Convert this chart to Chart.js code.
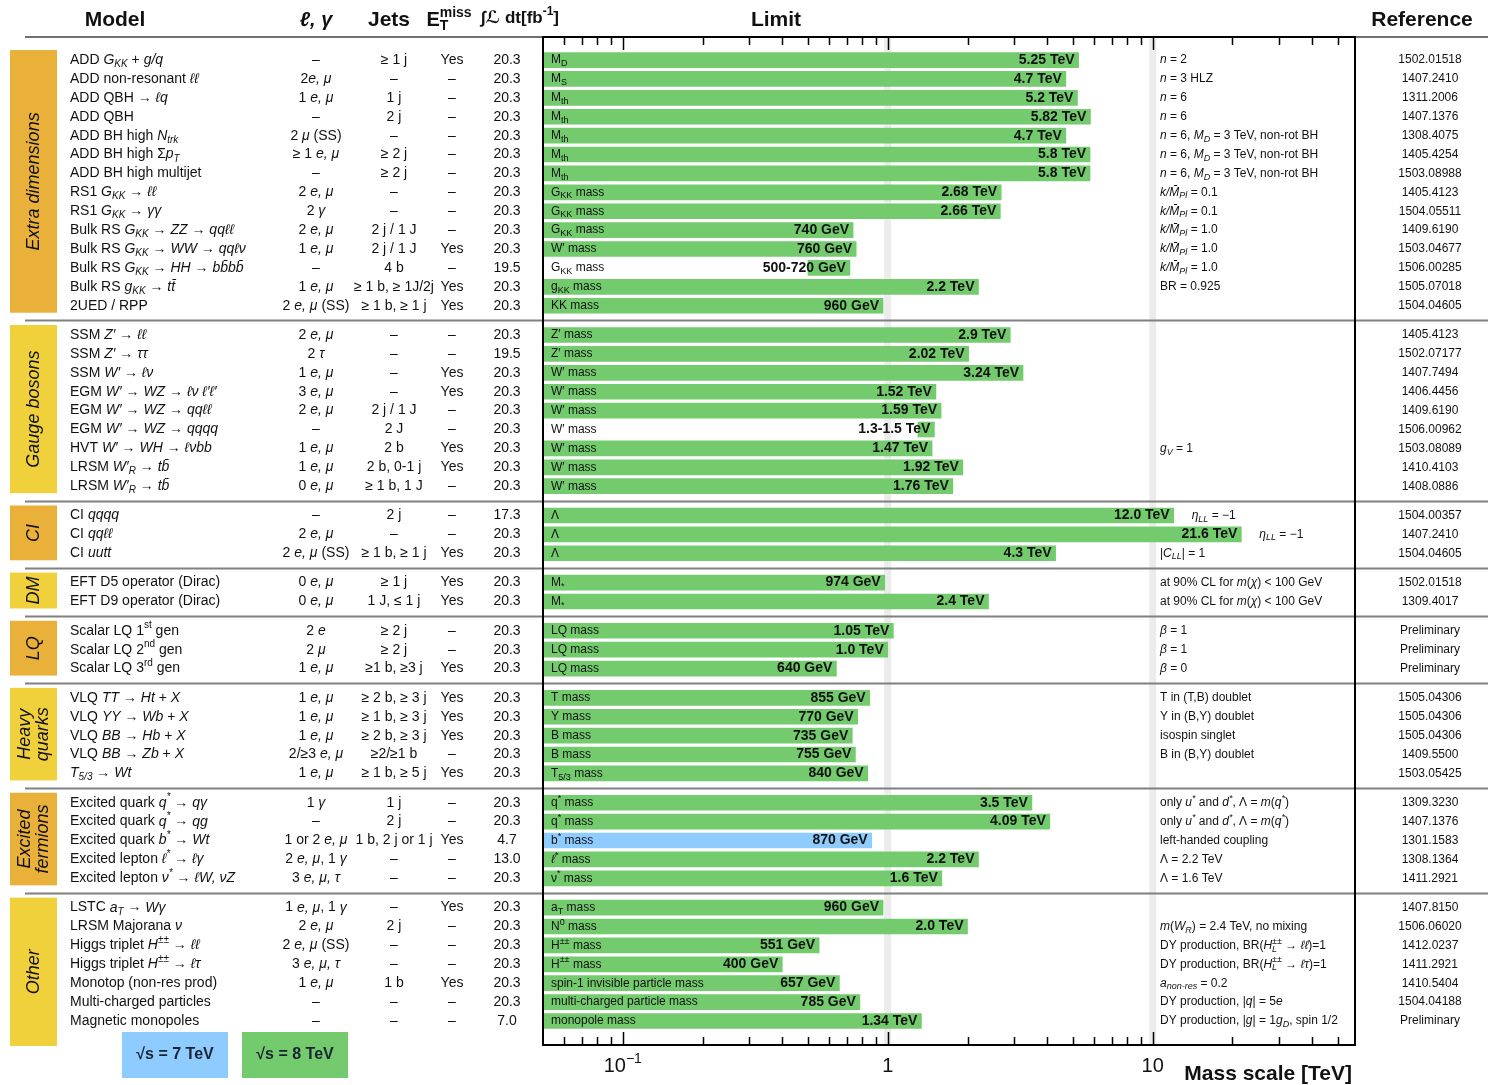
<!DOCTYPE html>
<html>
<head>
<meta charset="utf-8">
<title>ATLAS Exotics Searches - 95% CL Exclusion Limits</title>
<script src="https://cdn.jsdelivr.net/npm/chart.js@4.4.1/dist/chart.umd.min.js"></script>
<style>
  body { margin: 0; background: #fff; }
  canvas { display: block; }
</style>
</head>
<body>
<canvas id="grafico" width="1488" height="1085"></canvas>
<script>
// === DATOS ===
const grupos = ['Extra dimensions', 'Gauge bosons', 'CI', 'DM', 'LQ', 'Heavy\nquarks', 'Excited\nfermions', 'Other'];
const tamGrupos = [14, 9, 3, 2, 3, 5, 5, 7];

const modelos = [
  'ADD $G_{KK}$ + $g/q$', 'ADD non-resonant $ℓℓ$', 'ADD QBH → $ℓq$', 'ADD QBH', 'ADD BH high $N_{trk}$',
  'ADD BH high Σ$p_{T}$', 'ADD BH high multijet', 'RS1 $G_{KK}$ → $ℓℓ$', 'RS1 $G_{KK}$ → $γγ$',
  'Bulk RS $G_{KK}$ → $ZZ$ → $qqℓℓ$', 'Bulk RS $G_{KK}$ → $WW$ → $qqℓν$', 'Bulk RS $G_{KK}$ → $HH$ → $bb̄bb̄$',
  'Bulk RS $g_{KK}$ → $tt̄$', '2UED / RPP',
  'SSM $Z′$ → $ℓℓ$', 'SSM $Z′$ → $ττ$', 'SSM $W′$ → $ℓν$', 'EGM $W′$ → $WZ$ → $ℓν ℓ′ℓ′$',
  'EGM $W′$ → $WZ$ → $qqℓℓ$', 'EGM $W′$ → $WZ$ → $qqqq$', 'HVT $W′$ → $WH$ → $ℓνbb$',
  'LRSM $W′_{R}$ → $tb̄$', 'LRSM $W′_{R}$ → $tb̄$',
  'CI $qqqq$', 'CI $qqℓℓ$', 'CI $uutt$',
  'EFT D5 operator (Dirac)', 'EFT D9 operator (Dirac)',
  'Scalar LQ 1^{st} gen', 'Scalar LQ 2^{nd} gen', 'Scalar LQ 3^{rd} gen',
  'VLQ $TT$ → $Ht$ + $X$', 'VLQ $YY$ → $Wb$ + $X$', 'VLQ $BB$ → $Hb$ + $X$', 'VLQ $BB$ → $Zb$ + $X$', '$T_{5/3}$ → $Wt$',
  'Excited quark $q^{*}$ → $qγ$', 'Excited quark $q^{*}$ → $qg$', 'Excited quark $b^{*}$ → $Wt$',
  'Excited lepton $ℓ^{*}$ → $ℓγ$', 'Excited lepton $ν^{*}$ → $ℓW, νZ$',
  'LSTC $a_{T}$ → $Wγ$', 'LRSM Majorana $ν$', 'Higgs triplet $H^{±±}$ → $ℓℓ$', 'Higgs triplet $H^{±±}$ → $ℓτ$',
  'Monotop (non-res prod)', 'Multi-charged particles', 'Magnetic monopoles'
];

const leptones = [
  '–', '2$e, μ$', '1 $e, μ$', '–', '2 $μ$ (SS)', '≥ 1 $e, μ$', '–', '2 $e, μ$', '2 $γ$', '2 $e, μ$', '1 $e, μ$', '–', '1 $e, μ$', '2 $e, μ$ (SS)',
  '2 $e, μ$', '2 $τ$', '1 $e, μ$', '3 $e, μ$', '2 $e, μ$', '–', '1 $e, μ$', '1 $e, μ$', '0 $e, μ$',
  '–', '2 $e, μ$', '2 $e, μ$ (SS)',
  '0 $e, μ$', '0 $e, μ$',
  '2 $e$', '2 $μ$', '1 $e, μ$',
  '1 $e, μ$', '1 $e, μ$', '1 $e, μ$', '2/≥3 $e, μ$', '1 $e, μ$',
  '1 $γ$', '–', '1 or 2 $e, μ$', '2 $e, μ$, 1 $γ$', '3 $e, μ, τ$',
  '1 $e, μ$, 1 $γ$', '2 $e, μ$', '2 $e, μ$ (SS)', '3 $e, μ, τ$', '1 $e, μ$', '–', '–'
];

const jets = [
  '≥ 1 j', '–', '1 j', '2 j', '–', '≥ 2 j', '≥ 2 j', '–', '–', '2 j / 1 J', '2 j / 1 J', '4 b', '≥ 1 b, ≥ 1J/2j', '≥ 1 b, ≥ 1 j',
  '–', '–', '–', '–', '2 j / 1 J', '2 J', '2 b', '2 b, 0-1 j', '≥ 1 b, 1 J',
  '2 j', '–', '≥ 1 b, ≥ 1 j',
  '≥ 1 j', '1 J, ≤ 1 j',
  '≥ 2 j', '≥ 2 j', '≥1 b, ≥3 j',
  '≥ 2 b, ≥ 3 j', '≥ 1 b, ≥ 3 j', '≥ 2 b, ≥ 3 j', '≥2/≥1 b', '≥ 1 b, ≥ 5 j',
  '1 j', '2 j', '1 b, 2 j or 1 j', '–', '–',
  '–', '2 j', '–', '–', '1 b', '–', '–'
];

const etmiss = [
  'Yes', '–', '–', '–', '–', '–', '–', '–', '–', '–', 'Yes', '–', 'Yes', 'Yes',
  '–', '–', 'Yes', 'Yes', '–', '–', 'Yes', 'Yes', '–',
  '–', '–', 'Yes',
  'Yes', 'Yes',
  '–', '–', 'Yes',
  'Yes', 'Yes', 'Yes', '–', 'Yes',
  '–', '–', 'Yes', '–', '–',
  'Yes', '–', '–', '–', 'Yes', '–', '–'
];

const luminosidad = [
  20.3, 20.3, 20.3, 20.3, 20.3, 20.3, 20.3, 20.3, 20.3, 20.3, 20.3, 19.5, 20.3, 20.3,
  20.3, 19.5, 20.3, 20.3, 20.3, 20.3, 20.3, 20.3, 20.3,
  17.3, 20.3, 20.3,
  20.3, 20.3,
  20.3, 20.3, 20.3,
  20.3, 20.3, 20.3, 20.3, 20.3,
  20.3, 20.3, 4.7, 13.0, 20.3,
  20.3, 20.3, 20.3, 20.3, 20.3, 20.3, 7.0
];

const etiquetasLimite = [
  'M_{D}', 'M_{S}', 'M_{th}', 'M_{th}', 'M_{th}', 'M_{th}', 'M_{th}', 'G_{KK} mass', 'G_{KK} mass', 'G_{KK} mass',
  'W′ mass', 'G_{KK} mass', 'g_{KK} mass', 'KK mass',
  'Z′ mass', 'Z′ mass', 'W′ mass', 'W′ mass', 'W′ mass', 'W′ mass', 'W′ mass', 'W′ mass', 'W′ mass',
  'Λ', 'Λ', 'Λ',
  'M_{*}', 'M_{*}',
  'LQ mass', 'LQ mass', 'LQ mass',
  'T mass', 'Y mass', 'B mass', 'B mass', 'T_{5/3} mass',
  'q^{*} mass', 'q^{*} mass', 'b^{*} mass', '$ℓ$^{*} mass', 'ν^{*} mass',
  'a_{T} mass', 'N^{0} mass', 'H^{±±} mass', 'H^{±±} mass', 'spin-1 invisible particle mass',
  'multi-charged particle mass', 'monopole mass'
];

// limites en TeV (extremo superior); inicios solo para los rangos
const limites = [
  5.25, 4.7, 5.2, 5.82, 4.7, 5.8, 5.8, 2.68, 2.66, 0.74, 0.76, 0.72, 2.2, 0.96,
  2.9, 2.02, 3.24, 1.52, 1.59, 1.5, 1.47, 1.92, 1.76,
  12.0, 21.6, 4.3,
  0.974, 2.4,
  1.05, 1.0, 0.64,
  0.855, 0.77, 0.735, 0.755, 0.84,
  3.5, 4.09, 0.87, 2.2, 1.6,
  0.96, 2.0, 0.551, 0.4, 0.657, 0.785, 1.34
];
const inicios = { 11: 0.5, 19: 1.3 };

// energia de centro de masas (TeV) de cada resultado
const energias = [
  8, 8, 8, 8, 8, 8, 8, 8, 8, 8, 8, 8, 8, 8,
  8, 8, 8, 8, 8, 8, 8, 8, 8,
  8, 8, 8,
  8, 8,
  8, 8, 8,
  8, 8, 8, 8, 8,
  8, 8, 7, 8, 8,
  8, 8, 8, 8, 8, 8, 8
];

const comentarios = [
  '$n$ = 2', '$n$ = 3 HLZ', '$n$ = 6', '$n$ = 6', '$n$ = 6, $M_{D}$ = 3 TeV, non-rot BH',
  '$n$ = 6, $M_{D}$ = 3 TeV, non-rot BH', '$n$ = 6, $M_{D}$ = 3 TeV, non-rot BH',
  '$k/M̄_{Pl}$ = 0.1', '$k/M̄_{Pl}$ = 0.1', '$k/M̄_{Pl}$ = 1.0', '$k/M̄_{Pl}$ = 1.0', '$k/M̄_{Pl}$ = 1.0',
  'BR = 0.925', '',
  '', '', '', '', '', '', '$g_{V}$ = 1', '', '',
  '$η_{LL}$ = −1', '$η_{LL}$ = −1', '|$C_{LL}$| = 1',
  'at 90% CL for $m$($χ$) < 100 GeV', 'at 90% CL for $m$($χ$) < 100 GeV',
  '$β$ = 1', '$β$ = 1', '$β$ = 0',
  'T in (T,B) doublet', 'Y in (B,Y) doublet', 'isospin singlet', 'B in (B,Y) doublet', '',
  'only $u^{*}$ and $d^{*}$, Λ = $m$($q^{*}$)', 'only $u^{*}$ and $d^{*}$, Λ = $m$($q^{*}$)',
  'left-handed coupling', 'Λ = 2.2 TeV', 'Λ = 1.6 TeV',
  '', '$m$($W_{R}$) = 2.4 TeV, no mixing', 'DY production, BR($H^{±±}_{L}$ → $ℓℓ$)=1',
  'DY production, BR($H^{±±}_{L}$ → $ℓτ$)=1', '$a_{non-res}$ = 0.2', 'DY production, |$q$| = 5$e$',
  'DY production, |$g$| = 1$g_{D}$, spin 1/2'
];

const referencias = [
  '1502.01518', '1407.2410', '1311.2006', '1407.1376', '1308.4075', '1405.4254', '1503.08988', '1405.4123',
  '1504.05511', '1409.6190', '1503.04677', '1506.00285', '1505.07018', '1504.04605',
  '1405.4123', '1502.07177', '1407.7494', '1406.4456', '1409.6190', '1506.00962', '1503.08089', '1410.4103', '1408.0886',
  '1504.00357', '1407.2410', '1504.04605',
  '1502.01518', '1309.4017',
  'Preliminary', 'Preliminary', 'Preliminary',
  '1505.04306', '1505.04306', '1505.04306', '1409.5500', '1503.05425',
  '1309.3230', '1407.1376', '1301.1583', '1308.1364', '1411.2921',
  '1407.8150', '1506.06020', '1412.0237', '1411.2921', '1410.5404', '1504.04188', 'Preliminary'
];

const marcasEje = [0.1, 1, 10];
const textosEje = ['10^{−1}', '1', '10'];

// === ESTILO ===
const X_MIN = 0.05, X_MAX = 58;
const FUENTE = '"Liberation Sans", "DejaVu Sans", sans-serif';
const VERDE = 'rgb(115, 203, 110)';
const AZUL = 'rgb(142, 203, 255)';
const NARANJA = 'rgb(233, 176, 58)';
const AMARILLO = 'rgb(241, 209, 59)';
const TINTA = '#111';

// posicion de cada fila en el eje y (hueco entre grupos)
const posiciones = [];
let acumulado = 0;
tamGrupos.forEach(n => {
  for (let k = 0; k < n; k++) posiciones.push(acumulado + k);
  acumulado += n + 0.55;
});

// === TEXTO CON CURSIVA, SUBINDICES Y SUPERINDICES ===
function trozos(str) {
  const out = [];
  let it = false, buf = '', i = 0;
  const meter = (t, modo) => { if (t) out.push({ t, it, modo }); };
  while (i < str.length) {
    const c = str[i];
    if (c === '$') { meter(buf, 0); buf = ''; it = !it; i++; }
    else if ((c === '_' || c === '^') && str[i + 1] === '{') {
      meter(buf, 0); buf = '';
      const j = str.indexOf('}', i);
      meter(str.slice(i + 2, j), c === '_' ? -1 : 1);
      i = j + 1;
    } else { buf += c; i++; }
  }
  meter(buf, 0);
  return out;
}

function texto(ctx, str, x, y, size, op = {}) {
  if (!str) return;
  const lista = trozos(str);
  const fuente = r => `${r.it ? 'italic ' : ''}${op.bold ? 'bold ' : ''}${r.modo ? Math.round(size * 0.72) : size}px ${FUENTE}`;
  let ancho = 0, prev = null;
  lista.forEach(r => {
    ctx.font = fuente(r);
    r.w = ctx.measureText(r.t).width;
    if (prev && prev.modo && r.modo && prev.modo !== r.modo) {
      r.x = prev.x;
      ancho = prev.x + Math.max(prev.w, r.w);
    } else {
      r.x = ancho;
      ancho += r.w;
    }
    prev = r;
  });
  const x0 = op.align === 'center' ? x - ancho / 2 : op.align === 'right' ? x - ancho : x;
  ctx.save();
  ctx.fillStyle = op.color || TINTA;
  ctx.textBaseline = 'middle';
  ctx.textAlign = 'left';
  lista.forEach(r => {
    ctx.font = fuente(r);
    const dy = r.modo === -1 ? size * 0.3 : r.modo === 1 ? -size * 0.36 : 0;
    ctx.fillText(r.t, x0 + r.x, y + dy);
  });
  ctx.restore();
}

function textoValor(i) {
  const v = limites[i], lo = inicios[i];
  const f = t => v >= 1 ? (String(t).includes('.') ? String(t) : t.toFixed(1)) : String(Math.round(t * 1000));
  return (lo != null ? f(lo) + '-' : '') + f(v) + (v >= 1 ? ' TeV' : ' GeV');
}

// === PLUGIN DE DIBUJO ===
const pluginTextos = {
  id: 'textos',
  beforeDatasetsDraw(chart) {
    const { ctx, chartArea: a, scales: { x } } = chart;
    ctx.save();
    ctx.fillStyle = '#ececec';
    [1, 10].forEach(v => {
      const px = x.getPixelForValue(v);
      ctx.fillRect(px - 3.5, a.top, 7, a.bottom - a.top);
    });
    ctx.restore();
  },
  afterDatasetsDraw(chart) {
    const { ctx, chartArea: a } = chart;
    const meta = chart.getDatasetMeta(0);
    meta.data.forEach((barra, i) => {
      texto(ctx, etiquetasLimite[i], a.left + 8, barra.y, 12);
      texto(ctx, textoValor(i), barra.x - 4, barra.y, 14, { bold: true, align: 'right' });
      texto(ctx, comentarios[i], Math.max(1160, barra.x + 18), barra.y, 12);
    });
  },
  afterDraw(chart) {
    const { ctx, chartArea: a, scales: { x, y } } = chart;
    const W = chart.width;

    // cabecera
    texto(ctx, 'Model', 115, 20, 21, { bold: true, align: 'center' });
    texto(ctx, '$ℓ, γ$', 316, 20, 20, { bold: true, align: 'center' });
    texto(ctx, 'Jets', 389, 20, 21, { bold: true, align: 'center' });
    texto(ctx, 'E^{miss}_{T}', 449, 20, 20, { bold: true, align: 'center' });
    texto(ctx, '∫ℒ dt[fb^{-1}]', 520, 18, 17, { bold: true, align: 'center' });
    texto(ctx, 'Limit', 776, 20, 21, { bold: true, align: 'center' });
    texto(ctx, 'Reference', 1422, 20, 21, { bold: true, align: 'center' });

    ctx.save();
    ctx.strokeStyle = '#707070';
    ctx.lineWidth = 2;
    ctx.beginPath();
    ctx.moveTo(25, a.top); ctx.lineTo(W, a.top);
    ctx.stroke();

    // separadores entre grupos y cajas de color
    let fila = 0;
    tamGrupos.forEach((n, g) => {
      const yIni = y.getPixelForValue(posiciones[fila]);
      const yFin = y.getPixelForValue(posiciones[fila + n - 1]);
      const abajo = g === tamGrupos.length - 1 ? a.bottom + 1 : yFin + 7;
      ctx.fillStyle = g % 2 === 0 ? NARANJA : AMARILLO;
      ctx.fillRect(10, yIni - 10, 47, abajo - (yIni - 10));
      if (g < tamGrupos.length - 1) {
        const ySig = y.getPixelForValue(posiciones[fila + n]);
        const ySep = Math.round((yFin + ySig) / 2) + 0.5;
        ctx.strokeStyle = '#808080';
        ctx.beginPath();
        ctx.moveTo(25, ySep); ctx.lineTo(W, ySep);
        ctx.stroke();
      }
      const lineas = grupos[g].split('\n');
      ctx.save();
      ctx.translate(33.5, (yIni - 10 + abajo) / 2);
      ctx.rotate(-Math.PI / 2);
      lineas.forEach((l, k) => {
        texto(ctx, '$' + l + '$', 0, (k - (lineas.length - 1) / 2) * 18, 18, { align: 'center' });
      });
      ctx.restore();
      fila += n;
    });

    // columnas de texto
    posiciones.forEach((p, i) => {
      const py = y.getPixelForValue(p);
      texto(ctx, modelos[i], 70, py, 14);
      texto(ctx, leptones[i], 316, py, 14, { align: 'center' });
      texto(ctx, jets[i], 394, py, 14, { align: 'center' });
      texto(ctx, etmiss[i], 452, py, 14, { align: 'center' });
      texto(ctx, luminosidad[i].toFixed(1), 507, py, 14, { align: 'center' });
      texto(ctx, referencias[i], 1430, py, 12, { align: 'center' });
    });

    // marcas del eje x (arriba y abajo, hacia dentro)
    ctx.strokeStyle = '#000';
    ctx.lineWidth = 1.5;
    ctx.beginPath();
    for (let d = -2; d <= 1; d++) {
      for (let m = 1; m <= 9; m++) {
        const v = m * Math.pow(10, d);
        if (v <= X_MIN * 1.01 || v >= X_MAX * 0.99) continue;
        const px = Math.round(x.getPixelForValue(v)) + 0.5;
        const largo = m === 1 ? 13 : 8;
        ctx.moveTo(px, a.top); ctx.lineTo(px, a.top + largo);
        ctx.moveTo(px, a.bottom); ctx.lineTo(px, a.bottom - largo);
      }
    }
    ctx.stroke();

    // marco del grafico
    ctx.lineWidth = 2;
    ctx.strokeRect(a.left, a.top, a.right - a.left, a.bottom - a.top);
    ctx.restore();

    marcasEje.forEach((v, k) => {
      texto(ctx, textosEje[k], x.getPixelForValue(v), 1066, 20, { align: 'center' });
    });
    texto(ctx, 'Mass scale [TeV]', 1352, 1074, 21, { bold: true, align: 'right' });

    // leyenda de energias
    ctx.fillStyle = AZUL;
    ctx.fillRect(122, 1032, 106, 46);
    ctx.fillStyle = VERDE;
    ctx.fillRect(242, 1032, 106, 46);
    texto(ctx, '√s = 7 TeV', 175, 1055, 16, { bold: true, align: 'center', color: '#1b2433' });
    texto(ctx, '√s = 8 TeV', 295, 1055, 16, { bold: true, align: 'center', color: '#1b2433' });
  }
};

// === GRAFICO ===
const datosBarras = limites.map((v, i) => ({ x: [inicios[i] ?? X_MIN, v], y: posiciones[i] }));

new Chart(document.getElementById('grafico').getContext('2d'), {
  type: 'bar',
  data: {
    datasets: [{
      data: datosBarras,
      backgroundColor: energias.map(e => e === 7 ? AZUL : VERDE),
      borderWidth: 0,
      barThickness: 15
    }]
  },
  options: {
    indexAxis: 'y',
    responsive: false,
    animation: false,
    devicePixelRatio: 1,
    layout: { padding: { left: 543, right: 133, top: 37, bottom: 40 } },
    plugins: { legend: { display: false }, tooltip: { enabled: false } },
    scales: {
      x: { type: 'logarithmic', min: X_MIN, max: X_MAX, display: false },
      y: { type: 'linear', reverse: true, offset: false, min: -1.22, max: 52.12, display: false }
    }
  },
  plugins: [pluginTextos]
});
</script>
</body>
</html>
